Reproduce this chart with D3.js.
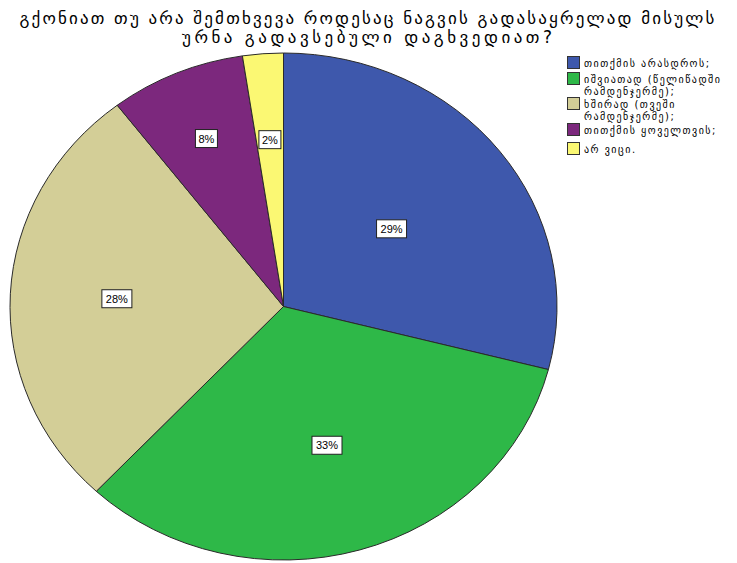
<!DOCTYPE html>
<html>
<head>
<meta charset="utf-8">
<script src="https://cdn.jsdelivr.net/npm/d3@7"></script>
<style>
  body { margin: 0; background: #fff; }
  svg { display: block; font-family: "DejaVu Sans", sans-serif; }
</style>
</head>
<body>
<div id="chart"></div>
<script>
const titleLines = [
    "გქონიათ თუ არა შემთხვევა როდესაც ნაგვის გადასაყრელად მისულს",
    "ურნა გადავსებული დაგხვედიათ?"
]
const categories = [
    ["თითქმის არასდროს;"],
    ["იშვიათად (წელიწადში", "რამდენჯერმე);"],
    ["ხშირად (თვეში", "რამდენჯერმე);"],
    ["თითქმის ყოველთვის;"],
    ["არ ვიცი."]
]
const percents = [29.0, 33.0, 27.6, 8.0, 2.4]
const colors = ["#3e58ac", "#2eb848", "#d3ce97", "#7c287d", "#fbf873"]

const width = 737
const height = 563
const cx = 283.5, cy = 306.5
const rx = 273.5, ry = 253.5
// radial fraction for each label box (SPSS places them a bit irregularly)
const labelFrac = [0.5, 0.57, 0.61, 0.72, 0.66]

const svg = d3.select("#chart").append("svg")
    .attr("width", width)
    .attr("height", height)

// title, stretched a bit like the wide SPSS font
const titleWidths = [695, 370]
svg.append("g")
    .selectAll("text")
    .data(titleLines)
    .join("text")
    .attr("x", 367)
    .attr("y", (d, i) => 24 + i * 19)
    .attr("text-anchor", "middle")
    .attr("textLength", (d, i) => titleWidths[i])
    .attr("lengthAdjust", "spacing")
    .style("font-size", "17px")
    .style("fill", "#000")
    .text(d => d)

const pie = d3.pie().sort(null).value(d => d)
const arcs = pie(percents)
const arc = d3.arc().innerRadius(0).outerRadius(rx)

const g = svg.append("g")
    .attr("transform", `translate(${cx},${cy}) scale(1,${ry / rx})`)

g.selectAll("path")
    .data(arcs)
    .join("path")
    .attr("d", arc)
    .attr("fill", (d, i) => colors[i])
    .attr("stroke", "#2a2a2a")
    .attr("stroke-width", 1)
    .attr("vector-effect", "non-scaling-stroke")

// percent labels
const labels = svg.append("g")
    .selectAll("g")
    .data(arcs)
    .join("g")
    .attr("transform", (d, i) => {
        const a = (d.startAngle + d.endAngle) / 2
        const x = cx + Math.sin(a) * rx * labelFrac[i]
        const y = cy - Math.cos(a) * ry * labelFrac[i]
        return `translate(${x},${y})`
    })

labels.append("rect")
    .attr("x", d => d.data < 10 ? -11 : -15)
    .attr("y", -9)
    .attr("width", d => d.data < 10 ? 22 : 30)
    .attr("height", 18)
    .attr("fill", "#fff")
    .attr("stroke", "#222")
    .attr("stroke-width", 1)

labels.append("text")
    .attr("text-anchor", "middle")
    .attr("dy", "0.36em")
    .style("font-size", "11px")
    .style("font-family", "Liberation Sans, Arial, sans-serif")
    .text(d => Math.round(d.data) + "%")

// legend
const rowY = [63, 79, 104, 130, 149]
const legend = svg.append("g")
    .selectAll("g")
    .data(categories)
    .join("g")
    .attr("transform", (d, i) => `translate(567,${rowY[i]})`)

legend.append("rect")
    .attr("x", 0.5)
    .attr("y", -6.5)
    .attr("width", 12)
    .attr("height", 12)
    .attr("fill", (d, i) => colors[i])
    .attr("stroke", "#333")

legend.append("text")
    .style("font-size", "10px")
    .style("letter-spacing", "1.5px")
    .selectAll("tspan")
    .data(d => d)
    .join("tspan")
    .attr("x", 17)
    .attr("y", (d, i) => i * 12)
    .attr("dy", "0.35em")
    .text(d => d)
</script>
</body>
</html>
